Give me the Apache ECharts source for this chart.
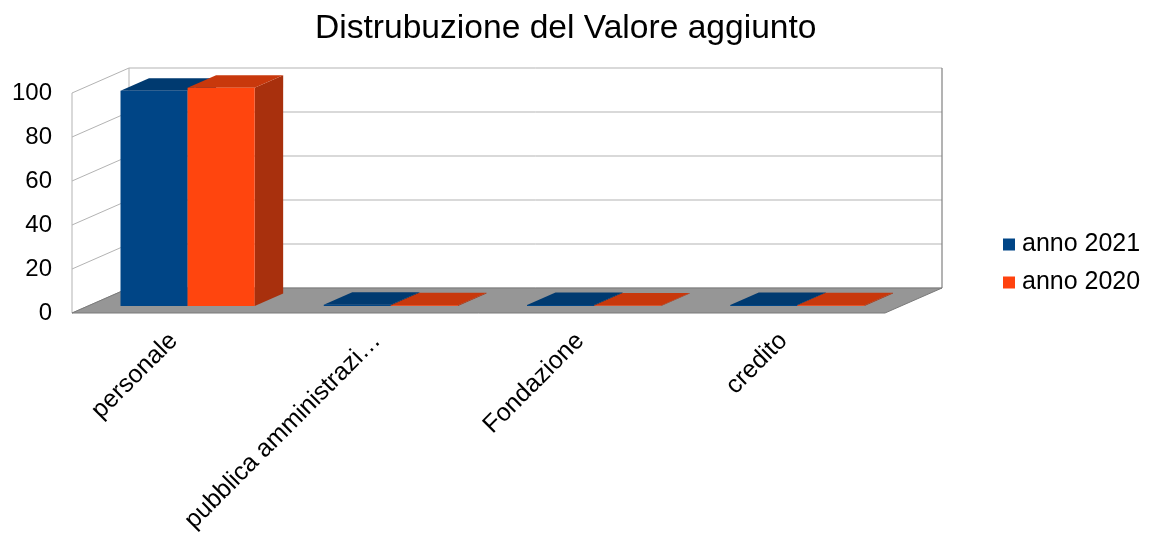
<!DOCTYPE html>
<html>
<head>
<meta charset="utf-8">
<script src="https://cdn.jsdelivr.net/npm/echarts@6/dist/echarts.min.js"></script>
<style>
html,body{margin:0;padding:0;background:#fff;}
#chart{width:1152px;height:544px;}
</style>
</head>
<body>
<div id="chart"></div>
<script>
const categories = ['personale', 'pubblica amministrazi…', 'Fondazione', 'credito'];
const anno2021 = [97.8, 0.6, 0.4, 0.5];
const anno2020 = [99.2, 0.3, 0.2, 0.3];
const yTicks = [0, 20, 40, 60, 80, 100];
const seriesNames = ['anno 2021', 'anno 2020'];

// 3D projection styling (pixels)
const DX = 57, DY = -25;      // depth offset of back wall
const FD = 0.28, BD = 0.5;    // bar front position & bar depth (fraction of full depth)
const BW = 0.33;              // bar width as fraction of category band

const FONT = 'Liberation Sans';

const chart = echarts.init(document.getElementById('chart'));

function wallsRender(params, api) {
  const cs = params.coordSys;
  const x0 = cs.x, x1 = cs.x + cs.width;
  const yTop = cs.y, yBot = cs.y + cs.height;
  const children = [];
  children.push({type: 'polygon', shape: {points: [[x0 + DX, yTop + DY], [x1 + DX, yTop + DY], [x1 + DX, yBot + DY], [x0 + DX, yBot + DY]]},
    style: {fill: '#ffffff', stroke: null}});
  children.push({type: 'polygon', shape: {points: [[x0, yTop], [x0 + DX, yTop + DY], [x0 + DX, yBot + DY], [x0, yBot]]},
    style: {fill: '#ffffff', stroke: null}});
  yTicks.forEach(function (t) {
    const y = api.coord([0, t])[1];
    children.push({type: 'polyline', shape: {points: [[x0, y], [x0 + DX, y + DY], [x1 + DX, y + DY]]},
      style: {fill: null, stroke: '#b3b3b3', lineWidth: 1}});
  });
  children.push({type: 'line', shape: {x1: x0, y1: yTop, x2: x0, y2: yBot}, style: {stroke: '#b3b3b3', lineWidth: 1}});
  children.push({type: 'line', shape: {x1: x0 + DX, y1: yTop + DY, x2: x0 + DX, y2: yBot + DY}, style: {stroke: '#b3b3b3', lineWidth: 1}});
  children.push({type: 'line', shape: {x1: x1 + DX, y1: yTop + DY, x2: x1 + DX, y2: yBot + DY}, style: {stroke: '#808080', lineWidth: 1.2}});
  children.push({type: 'polygon', shape: {points: [[x0, yBot], [x1, yBot], [x1 + DX, yBot + DY], [x0 + DX, yBot + DY]]},
    style: {fill: '#969696', stroke: '#7a7a7a', lineWidth: 1}});
  return {type: 'group', children: children};
}

function makeBarRender(side, cFront, cTop, cSide) {
  return function (params, api) {
    const i = api.value(0), v = api.value(1);
    const base = api.coord([i, 0]);
    const top = api.coord([i, v]);
    const band = api.size([1, 0])[0];
    const w = band * BW;
    const x0 = base[0] + side * w + FD * DX - 2;
    const yb = base[1] + FD * DY;
    const yt = top[1] + FD * DY;
    const bdx = BD * DX, bdy = BD * DY;
    return {type: 'group', children: [
      {type: 'polygon', shape: {points: [[x0 + w, yt], [x0 + w + bdx, yt + bdy], [x0 + w + bdx, yb + bdy], [x0 + w, yb]]},
        style: {fill: cSide}},
      {type: 'polygon', shape: {points: [[x0, yt], [x0 + w, yt], [x0 + w + bdx, yt + bdy], [x0 + bdx, yt + bdy]]},
        style: {fill: cTop}},
      {type: 'rect', shape: {x: x0, y: yt, width: w, height: Math.max(yb - yt, 0)},
        style: {fill: cFront}}
    ]};
  };
}

chart.setOption({
  animation: false,
  backgroundColor: '#ffffff',
  title: {
    text: 'Distrubuzione del Valore aggiunto',
    left: 310, top: 7,
    textStyle: {fontFamily: FONT, fontSize: 33.6, fontWeight: 'normal', color: '#000'}
  },
  legend: {
    data: seriesNames,
    orient: 'vertical',
    left: 998, top: 227,
    itemWidth: 12, itemHeight: 12, itemGap: 13,
    icon: 'rect',
    textStyle: {fontFamily: FONT, fontSize: 25, color: '#000', padding: [0, 0, 0, 2]}
  },
  grid: {left: 72, right: 267, top: 93, bottom: 231, containLabel: false},
  xAxis: {
    type: 'category', data: categories,
    axisLine: {show: false}, axisTick: {show: false}, splitLine: {show: false},
    axisLabel: {interval: 0, rotate: 45, margin: 24, fontFamily: FONT, fontSize: 25, color: '#000'}
  },
  yAxis: {
    type: 'value', min: 0, max: 100, interval: 20,
    axisLine: {show: false}, axisTick: {show: false}, splitLine: {show: false},
    axisLabel: {margin: 20, fontFamily: FONT, fontSize: 24, color: '#000'}
  },
  series: [
    {type: 'custom', name: 'walls', z: 1, silent: true, renderItem: wallsRender, data: [[0, 0]], legendHoverLink: false},
    {type: 'custom', name: seriesNames[0], z: 2, itemStyle: {color: '#004586'},
      renderItem: makeBarRender(-1, '#004586', '#003a70', '#002f5c'),
      data: anno2021.map(function (v, i) { return [i, v]; })},
    {type: 'custom', name: seriesNames[1], z: 2, itemStyle: {color: '#ff420e'},
      renderItem: makeBarRender(0, '#ff450e', '#c8380c', '#a8300d'),
      data: anno2020.map(function (v, i) { return [i, v]; })}
  ]
});
</script>
</body>
</html>
